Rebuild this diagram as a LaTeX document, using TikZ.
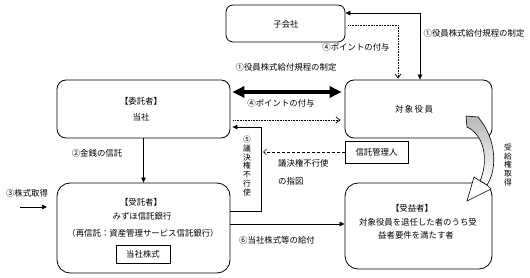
\documentclass[tikz,border=0pt]{standalone}
\usepackage{fontspec}
\setmainfont{Noto Sans CJK JP}
\usetikzlibrary{arrows.meta}
\begin{document}
\begin{tikzpicture}[x=1pt,y=-1pt,
  every node/.style={font=\fontsize{8.4}{10}\selectfont},
  box/.style={draw,line width=0.8pt,rounded corners=#1,inner sep=0pt},
  sqbox/.style={draw,line width=0.8pt,inner sep=0pt},
  txt/.style={inner sep=0pt},
  arr/.style={line width=0.7pt,-{Triangle[length=5pt,width=4.5pt]}},
  darr/.style={line width=0.7pt,{Triangle[length=5pt,width=4.5pt]}-{Triangle[length=5pt,width=4.5pt]}},
  dotarr/.style={line width=0.7pt,dash pattern=on 0.8pt off 0.8pt,-{Straight Barb[length=4pt,width=6pt,line width=0.7pt,sep]}},
  dasharr/.style={line width=0.7pt,dash pattern=on 3pt off 2pt,-{Straight Barb[length=3pt,width=6pt,line width=0.7pt]}},
  fatarr/.style={line width=4.5pt,{Triangle[length=12pt,width=11pt]}-{Triangle[length=12pt,width=11pt]}},
  vtxt/.style={align=center,inner sep=0pt,font=\fontsize{7.8}{8.9}\selectfont}
]
\useasboundingbox (0,0) rectangle (530,278);

% boxes
\node[box=7pt,minimum width=119pt,minimum height=37pt] (ko) at (285.5,23.5) {};
\node[txt] (kot) at (286,24) {子会社};
\node[box=9pt,minimum width=173pt,minimum height=58pt] (itaku) at (143.5,109) {};
\node[txt] (itakut1) at (141,101) {【委託者】};
\node[txt] (itakut2) at (141,117) {当社};
\node[box=9pt,minimum width=147pt,minimum height=58pt] (taisho) at (418.5,109) {};
\node[txt] (taishot) at (414,109) {対\,象\,役\,員};
\node[sqbox,minimum width=63pt,minimum height=22pt] (kanri) at (376.5,152) {};
\node[txt] (kanrit) at (376.5,152) {信託管理人};
\node[box=13pt,minimum width=173pt,minimum height=90pt] (jutaku) at (143.5,228) {};
\node[txt] (jutakut1) at (141,202) {【受託者】};
\node[txt] (jutakut2) at (142,216) {みずほ信託銀行};
\node[txt] (jutakut3) at (143,233) {（再信託：資産管理サービス信託銀行）};
\node[sqbox,minimum width=54pt,minimum height=18pt] (kabu) at (143,254) {};
\node[txt] (kabut) at (143,254) {当社株式};
\node[box=13pt,minimum width=147pt,minimum height=86pt] (juek) at (418.5,226) {};
\node[txt] (juekt1) at (412,208) {【受益者】};
\node[txt] (juekt2) at (418,222) {対象役員を退任した者のうち受};
\node[txt] (juekt3) at (416,235) {益者要件を満たす者};

% coordinates
\coordinate (c1) at (420,13);
\coordinate (c4) at (398,25);
\coordinate (v5) at (261,127);
\coordinate (v5b) at (261,211);
\coordinate (s3a) at (20,207);
\coordinate (s3b) at (47,207);
\coordinate (dk) at (263,152);

% (1) from subsidiary
\draw[darr] (ko.east |- c1) -- (c1) -- (c1 |- taisho.north);
% (4) dotted from subsidiary
\draw[dotarr] ([xshift=3pt]ko.east |- c4) -- (c4) -- (c4 |- taisho.north);
% thick double arrow
\draw[fatarr] ([xshift=2pt]itaku.east |- 0,92) -- ([xshift=-3pt]taisho.west |- 0,92);
% dotted arrow (4)
\draw[dotarr] ([xshift=3pt]itaku.east |- 0,120) -- ([xshift=-3pt]taisho.west |- 0,120);
% (5)
\draw[arr] (jutaku.east |- v5b) -- (v5b) -- (v5) -- ([xshift=2pt]itaku.east |- v5);
% dashed
\draw[dasharr] (kanri.west) -- (dk);
% (2)
\draw[arr] (itaku.south) -- (jutaku.north);
% (3)
\draw[arr] (s3a) -- (s3b);
% (6)
\draw[arr] (jutaku.east |- 0,224) -- (juek.west |- 0,224);

% labels
\node[txt] (l1r) at (474,33) {①役員株式給付規程の制定};
\node[txt] (l4t) at (356,47) {④ポイントの付与};
\node[txt] (l1m) at (286,67) {①役員株式給付規程の制定};
\node[txt] (l4m) at (281,103) {④ポイントの付与};
\node[vtxt] (l5) at (247,166) {⑤\\議\\決\\権\\不\\行\\使};
\node[txt,anchor=west] (ld1) at (278,163) {議決権不行使};
\node[txt,anchor=west] (ld2) at (278,181) {の指図};
\node[txt] (l2) at (97,153) {②金銭の信託};
\node[txt] (l3) at (27,193) {③株式取得};
\node[txt] (l6) at (277,240) {⑥当社株式等の給付};
\node[vtxt] (lj) at (508,165) {受\\給\\権\\取\\得};

% curved arrow: shaft
\draw[line width=0.6pt,top color=black!28,bottom color=white]
  (466,116) -- (478,117)
  .. controls (496,138) and (498,168) .. (487,185)
  -- (480,181)
  .. controls (488,163) and (486,136) .. (467,127) -- cycle;
% curved arrow: open head
\draw[line width=0.6pt,fill=white,line join=miter]
  (474,177) -- (480,181) -- (487,185) -- (491,189) -- (467,201) -- cycle;
\end{tikzpicture}
\end{document}
